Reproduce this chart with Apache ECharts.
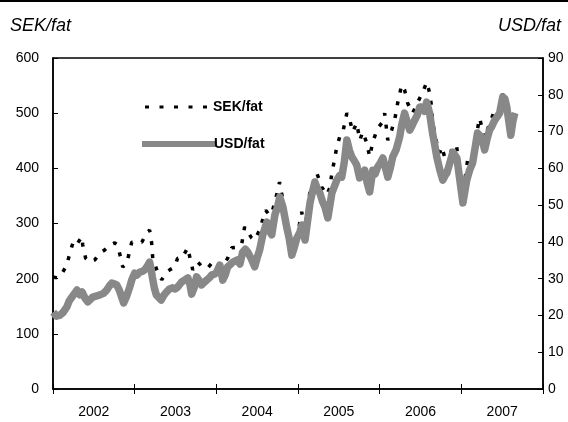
<!DOCTYPE html>
<html>
<head>
<meta charset="utf-8">
<script src="https://cdn.jsdelivr.net/npm/echarts@6/dist/echarts.min.js"></script>
<style>html,body{margin:0;padding:0;background:#fff;}#c{width:568px;height:422px;}</style>
</head>
<body>
<div id="c"></div>
<script>
var years = ['2002','2003','2004','2005','2006','2007'];

var usdDates = ['2002-01-02','2002-01-16','2002-02-01','2002-02-15','2002-03-04','2002-03-15','2002-03-27','2002-04-18','2002-05-01','2002-05-11','2002-05-24','2002-06-06','2002-06-28','2002-07-15','2002-07-30','2002-08-15','2002-08-29','2002-09-10','2002-09-21','2002-10-01','2002-10-13','2002-10-25','2002-11-04','2002-11-13','2002-11-25','2002-12-10','2002-12-20',
'2003-01-01','2003-01-12','2003-01-24','2003-02-05','2003-02-15','2003-02-28','2003-03-09','2003-03-15','2003-03-21','2003-03-30','2003-04-08','2003-04-20','2003-04-30','2003-05-12','2003-05-24','2003-06-06','2003-06-20','2003-07-01','2003-07-12','2003-07-30','2003-08-12','2003-08-27','2003-09-05','2003-09-13','2003-09-24','2003-10-05','2003-10-16','2003-10-27','2003-11-08','2003-11-19','2003-12-01','2003-12-12','2003-12-24',
'2004-01-03','2004-01-17','2004-01-30','2004-02-10','2004-02-21','2004-03-03','2004-03-15','2004-04-05','2004-04-16','2004-04-28','2004-05-10','2004-05-21','2004-06-05','2004-06-21','2004-07-01','2004-07-13','2004-07-27','2004-08-14','2004-08-25','2004-09-05','2004-09-19','2004-10-01','2004-10-11','2004-10-25','2004-11-11','2004-11-22','2004-12-04','2004-12-15','2004-12-26',
'2005-01-08','2005-01-18','2005-02-01','2005-02-12','2005-02-23','2005-03-06','2005-03-17','2005-03-28','2005-04-08','2005-04-20','2005-05-01','2005-05-14','2005-06-01','2005-06-12','2005-06-23','2005-07-05','2005-07-15','2005-07-26','2005-08-07','2005-08-18','2005-08-29','2005-09-10','2005-09-20','2005-10-03','2005-10-15','2005-10-26','2005-11-06','2005-11-17','2005-12-01','2005-12-12','2005-12-23',
'2006-01-04','2006-01-15','2006-01-25','2006-02-06','2006-02-17','2006-02-28','2006-03-15','2006-03-31','2006-04-10','2006-04-22','2006-05-04','2006-05-15','2006-05-25','2006-06-06','2006-06-18','2006-06-29','2006-07-08','2006-07-20','2006-07-30','2006-08-12','2006-08-25','2006-09-05','2006-09-13','2006-09-27','2006-10-10','2006-10-20','2006-10-28','2006-11-10','2006-11-24','2006-12-12','2006-12-25',
'2007-01-08','2007-01-16','2007-01-25','2007-02-07','2007-02-20','2007-03-02','2007-03-14','2007-04-01','2007-04-15','2007-04-26','2007-05-07','2007-05-18','2007-05-30','2007-06-10','2007-06-21','2007-07-05','2007-07-14','2007-07-23','2007-08-03','2007-08-10','2007-08-20','2007-08-28'];

var usdValues = [20.9,19.8,20.1,20.8,22.3,24.0,25.0,26.9,25.6,26.4,24.7,23.7,25.0,25.3,25.6,26.0,26.9,28.0,28.8,28.6,28.3,26.8,25.0,23.4,25.0,27.7,29.8,
31.5,31.0,31.8,32.0,32.4,33.5,34.5,32.8,30.5,27.5,25.6,24.8,24.2,25.5,26.4,27.2,27.5,27.2,27.7,29.1,29.6,30.2,28.5,25.8,27.5,30.5,29.6,28.3,29.0,29.6,30.2,31.0,31.2,
31.8,33.7,29.6,31.0,33.2,33.8,34.5,35.1,34.0,37.2,38.0,37.2,35.5,33.2,35.5,37.8,41.9,45.4,43.0,41.9,47.3,49.5,52.2,49.5,44.0,41.0,36.4,38.5,41.0,
42.5,44.6,40.5,45.5,50.6,53.5,56.3,54.5,53.3,51.0,49.5,46.5,53.3,55.0,56.8,58.0,57.6,61.5,67.7,65.0,63.1,62.0,60.9,57.4,58.0,59.5,56.0,53.6,59.5,58.5,60.4,
61.5,62.8,60.5,57.6,60.0,63.1,65.0,68.5,72.0,75.0,72.5,70.4,71.5,73.1,74.5,76.7,76.7,75.5,78.0,75.0,69.6,66.0,63.1,59.5,56.8,58.0,58.7,61.4,64.4,62.8,56.8,
50.6,53.5,56.8,59.5,61.4,65.0,69.6,68.5,65.0,68.0,70.4,71.5,73.1,74.0,75.0,79.4,79.0,76.7,72.0,69.0,73.0,75.0];

var sekDates = ['2002-01-01','2002-01-23','2002-02-14','2002-03-04','2002-03-17','2002-04-04','2002-04-22','2002-05-10','2002-05-14','2002-05-27','2002-06-14','2002-07-07','2002-07-29','2002-08-20','2002-09-12','2002-10-04','2002-10-17','2002-10-31','2002-11-09','2002-11-27','2002-12-19',
'2003-01-11','2003-02-02','2003-02-24','2003-03-09','2003-03-18','2003-03-23','2003-04-10','2003-05-02','2003-05-24','2003-06-07','2003-06-29','2003-07-12','2003-07-30','2003-08-13','2003-08-26','2003-09-18','2003-10-10','2003-11-01','2003-11-23','2003-12-16',
'2004-01-08','2004-01-26','2004-02-21','2004-03-10','2004-04-01','2004-04-23','2004-05-07','2004-05-20','2004-06-07','2004-06-20','2004-07-13','2004-07-26','2004-08-09','2004-08-26','2004-09-09','2004-09-27','2004-10-10','2004-10-19','2004-11-10','2004-12-03','2004-12-25',
'2005-01-17','2005-01-31','2005-02-22','2005-03-25','2005-04-17','2005-05-09','2005-05-22','2005-05-31','2005-06-14','2005-06-23','2005-07-06','2005-07-20','2005-08-07','2005-08-20','2005-09-02','2005-09-20','2005-10-04','2005-10-17','2005-11-04','2005-11-17','2005-12-01','2005-12-23',
'2006-01-10','2006-01-23','2006-02-06','2006-02-23','2006-03-09','2006-03-22','2006-04-09','2006-04-22','2006-05-06','2006-05-28','2006-06-20','2006-07-12','2006-07-30','2006-08-12','2006-08-21','2006-08-26','2006-09-12','2006-09-26','2006-10-05','2006-10-18','2006-11-01','2006-11-23','2006-12-11','2006-12-24',
'2007-01-07','2007-01-29','2007-02-20','2007-03-24','2007-04-13','2007-05-05','2007-05-30','2007-06-20','2007-07-04','2007-07-22','2007-08-10','2007-08-27'];

var sekValues = [203,201,212,225,246,270,265,276,261,237,230,234,246,252,261,265,261,237,221,228,266,
266,266,283,288,265,237,216,198,212,216,221,237,237,246,256,216,230,221,219,230,
230,221,237,256,257,261,294,285,274,270,288,306,324,315,324,352,375,355,310,245,270,
321,290,355,392,366,352,364,388,419,439,457,466,500,488,466,482,451,466,446,421,448,473,
482,500,451,469,488,518,551,542,518,500,520,538,556,537,511,482,448,428,439,421,406,442,439,395,
352,415,428,491,455,478,506,510,535,515,470,505];

function pairs(d, v) { return d.map(function (x, i) { return [x, v[i]]; }); }

var FONT = "'Liberation Sans', Arial, sans-serif";

var chart = echarts.init(document.getElementById('c'), null, { renderer: 'canvas' });
chart.setOption({
  animation: false,
  backgroundColor: '#fff',
  textStyle: { fontFamily: FONT },
  grid: { left: 53, right: 25, top: 58, bottom: 33, show: true, borderColor: '#000', borderWidth: 1.5, backgroundColor: 'transparent' },
  title: [
    { text: 'SEK/fat', left: 5, top: 12, textStyle: { fontFamily: FONT, fontStyle: 'italic', fontWeight: 'normal', fontSize: 18, color: '#000' } },
    { text: 'USD/fat', right: 2, top: 12, textStyle: { fontFamily: FONT, fontStyle: 'italic', fontWeight: 'normal', fontSize: 18, color: '#000' } }
  ],
  legend: [
    { data: [{ name: 'SEK/fat', icon: 'path://M0,0h4v3h-4z M14.5,0h4v3h-4z M29,0h4v3h-4z M43.5,0h4v3h-4z M58,0h4v3h-4z' }],
      left: 140, top: 95, orient: 'vertical', itemWidth: 62, itemHeight: 14,
      textStyle: { fontFamily: FONT, fontWeight: 'bold', fontSize: 14, color: '#000', padding: [3, 0, 0, 1] } },
    { data: [{ name: 'USD/fat', icon: 'path://M0,0h75v6h-75z' }],
      left: 137, top: 132, orient: 'vertical', itemWidth: 75, itemHeight: 14,
      textStyle: { fontFamily: FONT, fontWeight: 'bold', fontSize: 14, color: '#000', padding: [2, 0, 0, -8] } }
  ],
  xAxis: [
    { type: 'category', data: years, position: 'bottom', boundaryGap: true,
      axisLine: { lineStyle: { color: '#000', width: 1.5 } },
      axisTick: { show: true, alignWithLabel: false, length: 5, lineStyle: { color: '#000', width: 1 } },
      axisLabel: { margin: 16, fontSize: 14, color: '#000', fontFamily: FONT },
      splitLine: { show: false } },
    { type: 'category', data: years, position: 'bottom', boundaryGap: true,
      axisLine: { show: false },
      axisTick: { show: true, inside: true, alignWithLabel: false, length: 5, lineStyle: { color: '#000', width: 1 } },
      axisLabel: { show: false }, splitLine: { show: false } },
    { type: 'time', min: '2002-01-01', max: '2008-01-01', show: false }
  ],
  yAxis: [
    { type: 'value', min: 0, max: 600, interval: 100, position: 'left',
      axisLine: { show: true, lineStyle: { color: '#000', width: 1.5 } },
      axisTick: { show: true, inside: true, length: 5, lineStyle: { color: '#000' } },
      axisLabel: { margin: 14, fontSize: 14, color: '#000', fontFamily: FONT },
      splitLine: { show: false } },
    { type: 'value', min: 0, max: 90, interval: 10, position: 'right',
      axisLine: { show: true, lineStyle: { color: '#000', width: 1.5 } },
      axisTick: { show: true, inside: true, length: 5, lineStyle: { color: '#000' } },
      axisLabel: { margin: 5, fontSize: 14, color: '#000', fontFamily: FONT },
      splitLine: { show: false } }
  ],
  graphic: [
    { type: 'line', shape: { x1: 0, y1: 1, x2: 568, y2: 1 }, style: { stroke: '#000', lineWidth: 2 } }
  ],
  series: [
    { name: 'SEK/fat', type: 'line', xAxisIndex: 2, yAxisIndex: 0, symbol: 'none', z: 2,
      lineStyle: { color: '#000', width: 3.5, type: [4, 9], cap: 'butt' }, itemStyle: { color: '#000' },
      data: pairs(sekDates, sekValues) },
    { name: 'USD/fat', type: 'line', xAxisIndex: 2, yAxisIndex: 1, symbol: 'none', z: 3,
      lineStyle: { color: '#888888', width: 7.5, join: 'round' }, itemStyle: { color: '#888888' },
      data: pairs(usdDates, usdValues) }
  ]
});
</script>
</body>
</html>
